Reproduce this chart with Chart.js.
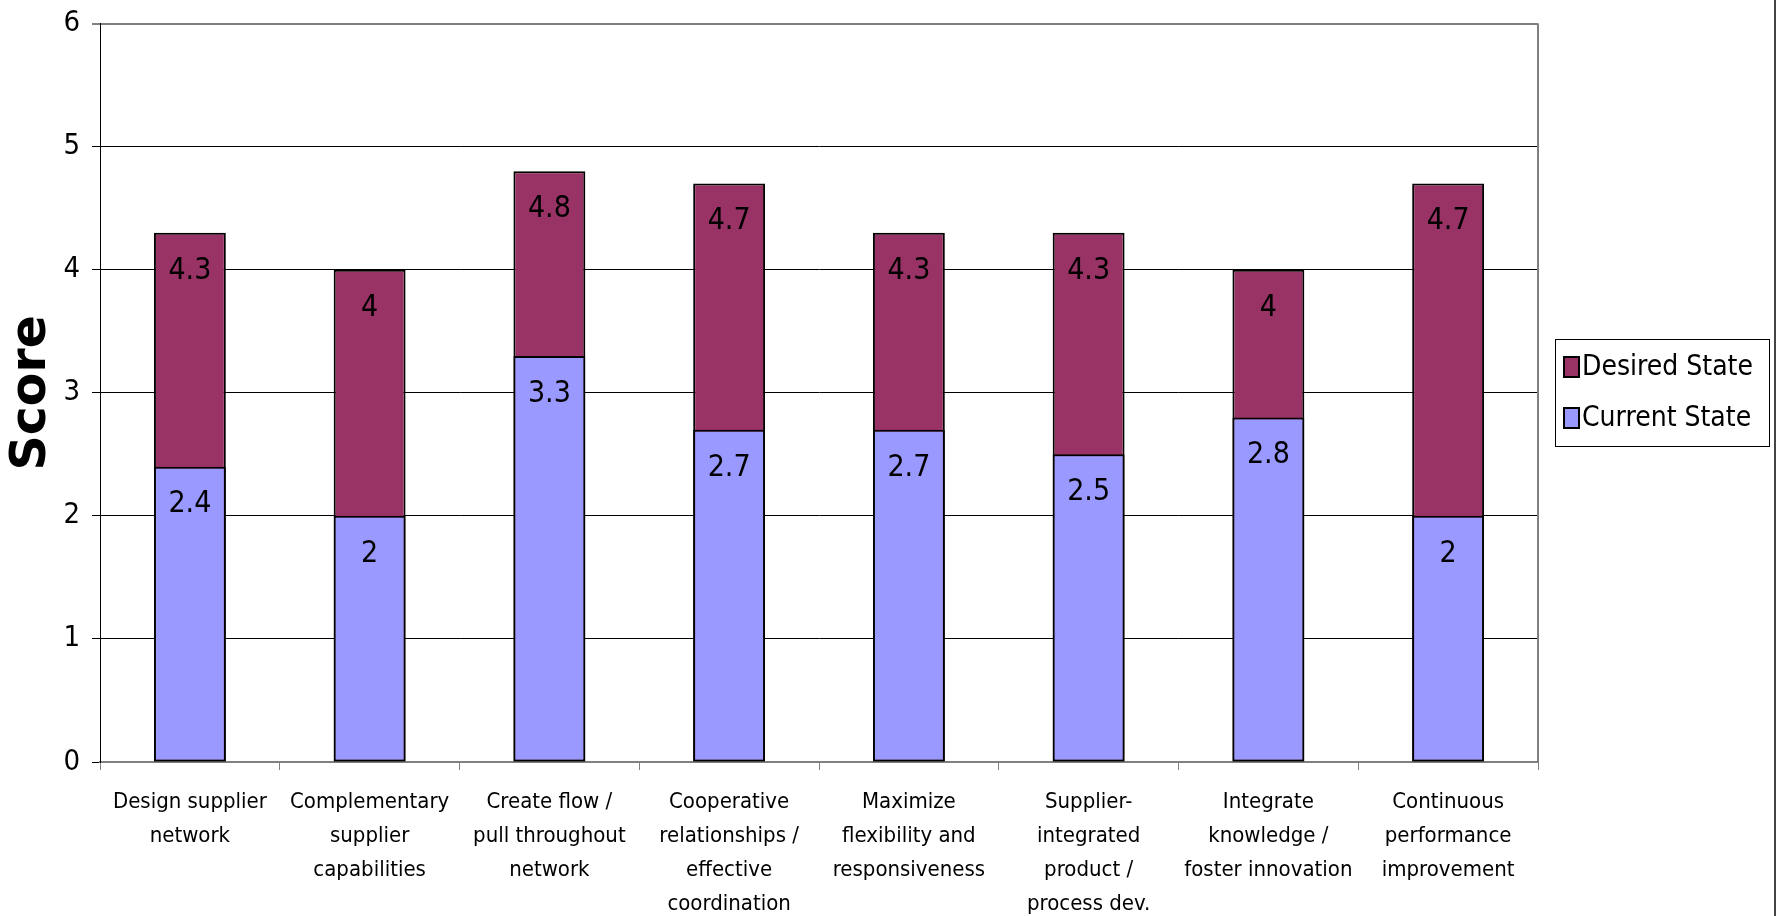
<!DOCTYPE html>
<html>
<head>
<meta charset="utf-8">
<script src="https://cdn.jsdelivr.net/npm/chart.js@4.4.1/dist/chart.umd.min.js"></script>
<style>
html,body{margin:0;padding:0;background:#fff;}
#wrap{position:relative;width:1779px;height:916px;}
</style>
</head>
<body>
<div id="wrap"><canvas id="c" width="1779" height="916"></canvas></div>
<script>
const categories = [
  ["Design supplier","network"],
  ["Complementary","supplier","capabilities"],
  ["Create flow /","pull throughout","network"],
  ["Cooperative","relationships /","effective","coordination"],
  ["Maximize","flexibility and","responsiveness"],
  ["Supplier-","integrated","product /","process dev."],
  ["Integrate","knowledge /","foster innovation"],
  ["Continuous","performance","improvement"]
];
const currentState = [2.4, 2, 3.3, 2.7, 2.7, 2.5, 2.8, 2];
const desiredState = [4.3, 4, 4.8, 4.7, 4.3, 4.3, 4, 4.7];
const yTicks = [0, 1, 2, 3, 4, 5, 6];

const FONT = "'DejaVu Sans Condensed', 'DejaVu Sans', sans-serif";

const valueLabels = {
  id: 'valueLabels',
  afterDatasetsDraw(chart) {
    const ctx = chart.ctx;
    ctx.save();
    ctx.font = '30px ' + FONT;
    ctx.fillStyle = '#000';
    ctx.textAlign = 'center';
    ctx.textBaseline = 'middle';
    chart.data.datasets.forEach((ds, i) => {
      const meta = chart.getDatasetMeta(i);
      meta.data.forEach((bar, j) => {
        ctx.fillText(String(ds.data[j]), bar.x, bar.y + 38);
      });
    });
    ctx.restore();
  }
};

const frame = {
  id: 'frame',
  afterDraw(chart) {
    const ctx = chart.ctx;
    const a = chart.chartArea;
    ctx.save();
    ctx.strokeStyle = '#808080';
    ctx.lineWidth = 2;
    ctx.beginPath();
    ctx.moveTo(a.right, a.top);
    ctx.lineTo(a.right, a.bottom);
    ctx.stroke();
    ctx.strokeStyle = '#444';
    ctx.lineWidth = 2;
    ctx.beginPath();
    ctx.moveTo(chart.width - 4, 0);
    ctx.lineTo(chart.width - 4, chart.height);
    ctx.stroke();
    const lx = 1555, ly = 339, lw = 214, lh = 107;
    ctx.fillStyle = '#fff';
    ctx.fillRect(lx, ly, lw, lh);
    ctx.strokeStyle = '#000';
    ctx.lineWidth = 1;
    ctx.strokeRect(lx + 0.5, ly + 0.5, lw, lh);
    const order = [1, 0];
    order.forEach((di, k) => {
      const ds = chart.data.datasets[di];
      const cy = 367 + k * 51;
      ctx.fillStyle = ds.backgroundColor;
      ctx.fillRect(1564, cy - 10, 15, 20);
      ctx.strokeStyle = '#000';
      ctx.lineWidth = 2;
      ctx.strokeRect(1564, cy - 10, 15, 20);
      ctx.fillStyle = '#000';
      ctx.font = '28px ' + FONT;
      ctx.textAlign = 'left';
      ctx.textBaseline = 'middle';
      ctx.fillText(ds.label, 1582, cy + 1);
    });
    ctx.restore();
  }
};

new Chart(document.getElementById('c'), {
  type: 'bar',
  data: {
    labels: categories,
    datasets: [
      {
        label: 'Current State',
        data: currentState,
        backgroundColor: '#9999FF',
        borderColor: '#000',
        borderWidth: 2,
        borderSkipped: false
      },
      {
        label: 'Desired State',
        data: desiredState,
        backgroundColor: '#993366',
        borderColor: '#000',
        borderWidth: 2,
        borderSkipped: false
      }
    ]
  },
  options: {
    responsive: false,
    animation: false,
    events: [],
    layout: { padding: { top: 23, right: 241, left: 0, bottom: 0 } },
    datasets: { bar: { grouped: false, barPercentage: 0.4, categoryPercentage: 1.0 } },
    plugins: { legend: { display: false }, tooltip: { enabled: false } },
    scales: {
      x: {
        stacked: false,
        grid: { display: true, drawOnChartArea: false, drawTicks: true, tickLength: 8, color: '#808080', lineWidth: 1, offset: true },
        border: { display: true, color: '#808080', width: 2 },
        ticks: { color: '#000', maxRotation: 0, autoSkip: false, padding: 15,
          font: { family: FONT, size: 22, lineHeight: 1.55 } },
        afterFit(scale) { scale.height = 916 - 762; }
      },
      y: {
        min: 0, max: 6,
        afterBuildTicks(scale) { scale.ticks = yTicks.map(v => ({ value: v })); },
        grid: {
          color: ctx => (ctx.tick && ctx.tick.value === 6 ? '#808080' : '#000'),
          lineWidth: ctx => (ctx.tick && ctx.tick.value === 6 ? 2 : 1),
          tickLength: 8
        },
        border: { display: true, color: '#000', width: 1 },
        ticks: { color: '#000', padding: 12, font: { family: FONT, size: 29, lineHeight: 0.8 } },
        title: { display: true, text: 'Score', color: '#000', padding: { top: 3, bottom: 0 },
          font: { family: "'DejaVu Sans', sans-serif", size: 49, weight: 'bold', lineHeight: 1.2 } },
        afterFit(scale) { scale.width = 100; }
      }
    }
  },
  plugins: [valueLabels, frame]
});
</script>
</body>
</html>
